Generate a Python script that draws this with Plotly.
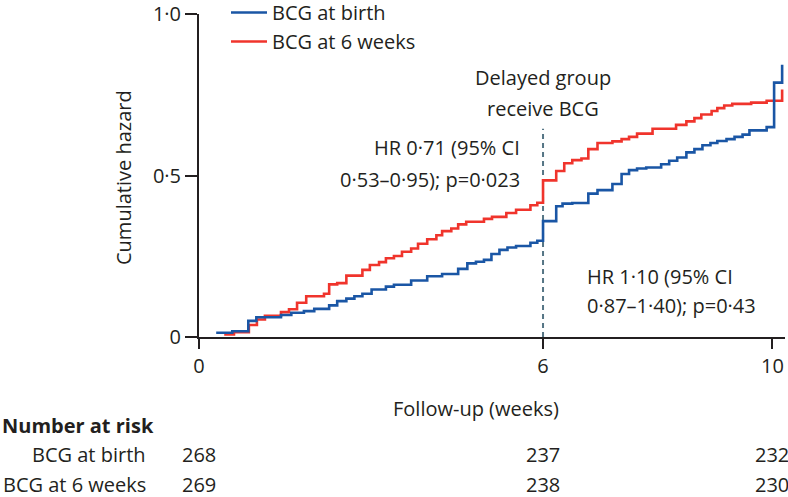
import plotly.graph_objects as go

# ---- data ----
birth_weeks = [0.30, 0.58, 0.86, 1.00, 1.43, 1.61, 1.83, 2.01, 2.27, 2.41, 2.57, 2.71, 2.85, 3.01,
               3.26, 3.40, 3.70, 3.98, 4.24, 4.52, 4.68, 4.83, 4.97, 5.10, 5.24, 5.38, 5.53, 5.78, 5.90,
               6.00, 6.23, 6.34, 6.51, 6.79, 6.95, 7.21, 7.37, 7.50, 7.64, 7.80, 8.06, 8.20, 8.34, 8.50,
               8.64, 8.78, 8.92, 9.04, 9.20, 9.34, 9.48, 9.60, 9.90, 10.03, 10.17]
birth_hazard = [0.013, 0.018, 0.050, 0.061, 0.068, 0.075, 0.080, 0.087, 0.098, 0.111, 0.119, 0.126, 0.134, 0.147,
                0.156, 0.162, 0.175, 0.188, 0.195, 0.211, 0.228, 0.233, 0.239, 0.257, 0.270, 0.277, 0.282, 0.292, 0.298,
                0.359, 0.405, 0.413, 0.415, 0.444, 0.455, 0.474, 0.505, 0.517, 0.522, 0.525, 0.535, 0.546, 0.556, 0.572,
                0.582, 0.594, 0.601, 0.607, 0.613, 0.620, 0.627, 0.640, 0.650, 0.788, 0.843]

wk6_weeks = [0.44, 0.61, 0.87, 1.01, 1.15, 1.43, 1.57, 1.71, 1.87, 2.18, 2.27, 2.41, 2.57, 2.85, 2.98,
             3.14, 3.26, 3.40, 3.54, 3.70, 3.82, 3.98, 4.14, 4.24, 4.40, 4.52, 4.66, 4.97, 5.11, 5.36, 5.53,
             5.78, 5.90, 6.00, 6.23, 6.37, 6.51, 6.67, 6.79, 6.95, 7.21, 7.37, 7.50, 7.64, 7.91, 8.32, 8.50,
             8.64, 8.76, 8.94, 9.04, 9.16, 9.30, 9.63, 9.90, 10.17]
wk6_hazard = [0.008, 0.015, 0.037, 0.054, 0.066, 0.077, 0.086, 0.106, 0.126, 0.134, 0.163, 0.167, 0.190, 0.208, 0.223,
              0.232, 0.244, 0.251, 0.264, 0.274, 0.289, 0.303, 0.315, 0.328, 0.336, 0.349, 0.357, 0.366, 0.372, 0.384, 0.394,
              0.408, 0.416, 0.485, 0.514, 0.538, 0.548, 0.553, 0.582, 0.601, 0.606, 0.613, 0.620, 0.630, 0.645, 0.657, 0.668,
              0.678, 0.689, 0.700, 0.709, 0.717, 0.722, 0.726, 0.732, 0.767]

series_names = ["BCG at birth", "BCG at 6 weeks"]
x_tickvals = [0, 6, 10]
x_ticktext = ["0", "6", "10"]
y_tickvals = [0, 0.5, 1.0]
y_ticktext = ["0", "0·5", "1·0"]

delay_week = 6
risk_times = [0, 6, 10]
risk_birth = [268, 237, 232]
risk_wk6 = [269, 238, 230]

hr_before = ["HR 0·71 (95% CI", "0·53–0·95); p=0·023"]
hr_after = ["HR 1·10 (95% CI", "0·87–1·40); p=0·43"]
delay_label = ["Delayed group", "receive BCG"]

# ---- styling ----
BLUE = "#1a56a5"
RED = "#f0342c"
AXIS = "#231f20"
DASH = "#557585"
FONT = "Open Sans"
FS = 20

W, H = 788, 497
ML, MR, MT, MB = 199, 3, 14, 160
PW = W - ML - MR
PH = H - MT - MB


def px_x(p):
    return (p - ML) / PW


def px_y(p):
    return (H - MB - p) / PH


fig = go.Figure()
fig.add_trace(go.Scatter(x=wk6_weeks, y=wk6_hazard, mode="lines", line=dict(color=RED, width=2.6, shape="hv"),
                         name=series_names[1], legendrank=2))
fig.add_trace(go.Scatter(x=birth_weeks, y=birth_hazard, mode="lines", line=dict(color=BLUE, width=2.6, shape="hv"),
                         name=series_names[0], legendrank=1))

fig.add_shape(type="line", xref="x", yref="y", x0=delay_week, x1=delay_week, y0=0, y1=0.645,
              line=dict(color=DASH, width=2, dash="5px,4px"), layer="below")

ann = []
for i, t in enumerate(delay_label):
    ann.append(dict(x=delay_week, xref="x", y=px_y([78, 109][i]), yref="paper", text=t, showarrow=False,
                    xanchor="center", yanchor="middle"))
for i, t in enumerate(hr_before):
    ann.append(dict(x=px_x(522), xref="paper", y=px_y([147, 179][i]), yref="paper", text=t, showarrow=False,
                    xanchor="right", yanchor="middle"))
for i, t in enumerate(hr_after):
    ann.append(dict(x=px_x(585), xref="paper", y=px_y([276, 305][i]), yref="paper", text=t, showarrow=False,
                    xanchor="left", yanchor="middle"))
# axis titles
ann.append(dict(x=px_x(123), xref="paper", y=px_y(178), yref="paper", text="Cumulative hazard", textangle=-90,
                showarrow=False, xanchor="center", yanchor="middle"))
ann.append(dict(x=px_x(476), xref="paper", y=px_y(408), yref="paper", text="Follow-up (weeks)",
                showarrow=False, xanchor="center", yanchor="middle"))
# number at risk table
ann.append(dict(x=px_x(0), xref="paper", y=px_y(425), yref="paper", text="<b>Number at risk</b>",
                showarrow=False, xanchor="left", yanchor="middle"))
row_y = [454, 484]
for name, ry in zip(series_names, row_y):
    ann.append(dict(x=px_x(148), xref="paper", y=px_y(ry), yref="paper", text=name,
                    showarrow=False, xanchor="right", yanchor="middle"))
for vals, ry in zip([risk_birth, risk_wk6], row_y):
    for t, v in zip(risk_times, vals):
        ann.append(dict(x=t, xref="x", y=px_y(ry), yref="paper", text=str(v),
                        showarrow=False, xanchor="center", yanchor="middle"))

fig.update_layout(
    width=W, height=H,
    margin=dict(l=ML, r=MR, t=MT, b=MB, autoexpand=False),
    paper_bgcolor="white", plot_bgcolor="white",
    font=dict(family=FONT, size=FS, color=AXIS),
    annotations=ann,
    showlegend=True,
    legend=dict(x=px_x(226), y=px_y(-7), xanchor="left", yanchor="top", bgcolor="rgba(0,0,0,0)",
                font=dict(size=FS), tracegroupgap=2, traceorder="normal", itemwidth=36),
    xaxis=dict(range=[0, 10.22], tickvals=x_tickvals, ticktext=x_ticktext, showgrid=False, zeroline=False,
               showline=True, linecolor=AXIS, linewidth=2, ticks="outside", ticklen=10, tickwidth=2,
               tickcolor=AXIS, tickfont=dict(size=FS), ticklabeloverflow="allow"),
    yaxis=dict(range=[0, 1.0005], tickvals=y_tickvals, ticktext=y_ticktext, showgrid=False, zeroline=False,
               showline=True, linecolor=AXIS, linewidth=2, ticks="outside", ticklen=12, tickwidth=2,
               tickcolor=AXIS, tickfont=dict(size=FS), ticklabeloverflow="allow", ticklabelstandoff=0),
)

fig.write_html("out.html", config={"displayModeBar": False},
               post_script="document.body.style.margin='0';document.body.style.overflow='hidden';")
